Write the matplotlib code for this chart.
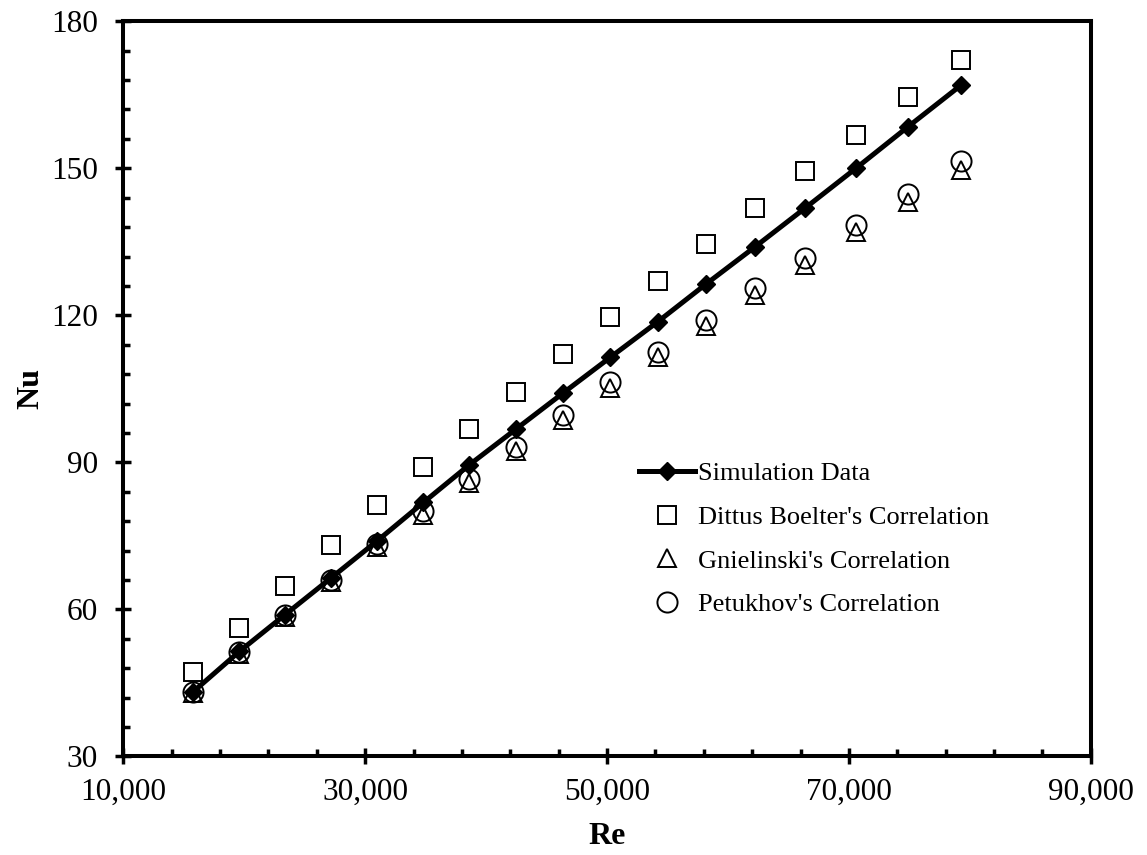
import matplotlib
matplotlib.use("Agg")
import matplotlib.pyplot as plt
import numpy as np
from matplotlib.ticker import StrMethodFormatter

plt.rcParams['font.family'] = ['Liberation Serif', 'DejaVu Serif']

re_values = [15790, 19595, 23375, 27180, 31009, 34814, 38619, 42481, 46344,
             50256, 54202, 58197, 62250, 66385, 70579, 74847, 79289]
nu_simulation = [43.2, 51.4, 58.9, 66.4, 74.0, 81.8, 89.5, 96.8, 104.1,
                 111.4, 118.7, 126.4, 134.0, 141.9, 150.0, 158.4, 167.0]
nu_dittus = [47.3, 56.1, 64.8, 73.1, 81.2, 89.1, 96.8, 104.4, 112.1,
             119.6, 127.0, 134.5, 141.9, 149.4, 156.8, 164.5, 172.1]
nu_gnielinski = [42.9, 50.8, 58.4, 65.5, 72.7, 79.3, 85.8, 92.3, 98.7,
                 105.2, 111.4, 117.8, 124.1, 130.3, 136.9, 143.2, 149.6]
nu_petukhov = [43.2, 51.2, 58.9, 66.0, 73.3, 80.0, 86.6, 93.2, 99.7,
               106.3, 112.6, 119.1, 125.5, 131.7, 138.5, 144.8, 151.4]

x_major_ticks = [10000, 30000, 50000, 70000, 90000]
y_major_ticks = [30, 60, 90, 120, 150, 180]

fig = plt.figure(figsize=(11.47, 8.55), dpi=100)
ax = fig.add_axes([0.1075, 0.1154, 0.8435, 0.8597])

ax.plot(re_values, nu_simulation, color='black', linewidth=3.6, marker='D',
        markersize=9.5, markerfacecolor='black', markeredgecolor='black',
        label='Simulation Data', zorder=3)
ax.plot(re_values, nu_dittus, linestyle='none', marker='s', markersize=12.5,
        markerfacecolor='none', markeredgecolor='black', markeredgewidth=1.4,
        label="Dittus Boelter's Correlation", zorder=4)
ax.plot(re_values, nu_gnielinski, linestyle='none', marker='^', markersize=13,
        markerfacecolor='none', markeredgecolor='black', markeredgewidth=1.4,
        label="Gnielinski's Correlation", zorder=4)
ax.plot(re_values, nu_petukhov, linestyle='none', marker='o', markersize=14.5,
        markerfacecolor='none', markeredgecolor='black', markeredgewidth=1.4,
        label="Petukhov's Correlation", zorder=5)

ax.set_xlim(10000, 90000)
ax.set_ylim(30, 180)
ax.set_xticks(x_major_ticks)
ax.set_xticks(np.arange(10000, 90001, 4000), minor=True)
ax.set_yticks(y_major_ticks)
ax.set_yticks(np.arange(30, 181, 6), minor=True)
ax.xaxis.set_major_formatter(StrMethodFormatter('{x:,.0f}'))

for s in ax.spines.values():
    s.set_linewidth(2.9)

ax.tick_params(axis='both', which='major', direction='inout', length=11.3,
               width=2.5, labelsize=22.5)
ax.tick_params(axis='both', which='minor', direction='in', length=5,
               width=2.5)
ax.tick_params(axis='x', which='major', pad=10)
ax.tick_params(axis='y', which='major', pad=12.6)

ax.set_xlabel('Re', fontsize=23, fontweight='bold', labelpad=11)
ax.set_ylabel('Nu', fontsize=23, fontweight='bold', labelpad=4)

leg = ax.legend(loc='upper left', bbox_to_anchor=(0.533, 0.401),
                frameon=False, fontsize=19, borderpad=0, borderaxespad=0,
                handlelength=2.12, handletextpad=0.11, labelspacing=0.77)

fig.savefig('out.png', dpi=100)
